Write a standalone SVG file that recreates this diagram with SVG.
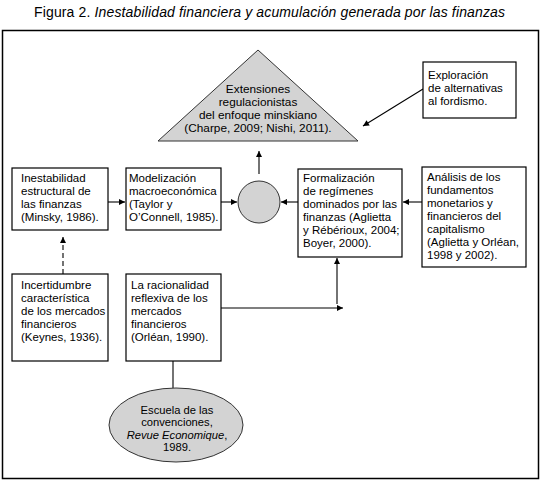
<svg xmlns="http://www.w3.org/2000/svg" width="544" height="481" viewBox="0 0 544 481">
<defs>
<marker id="ah" viewBox="0 0 10 10" refX="10" refY="5" markerWidth="8" markerHeight="6" markerUnits="userSpaceOnUse" orient="auto">
<path d="M0,0 L10,5 L0,10 z" fill="#000"/>
</marker>
</defs>
<style>
text{font-family:"Liberation Sans",Arial,sans-serif;font-size:11.5px;fill:#000}
.box{fill:#fff;stroke:#000;stroke-width:1.2}
.gray{fill:#d3d3d3;stroke:#333;stroke-width:1}
.c{text-anchor:middle}
.tri{font-size:11.8px}
.ell{font-size:11.2px}
.ln{fill:none;stroke:#000;stroke-width:1.1}
.ar{fill:none;stroke:#000;stroke-width:1.1;marker-end:url(#ah)}
.title{font-size:14px}
</style>
<rect width="544" height="481" fill="#fff"/>
<text class="title" x="34" y="17" textLength="471" lengthAdjust="spacing">Figura 2. <tspan font-style="italic">Inestabilidad financiera y acumulación generada por las finanzas</tspan></text>
<rect x="2.5" y="30.5" width="536" height="448" fill="none" stroke="#000" stroke-width="1.5"/>

<g id="connectors">
<line class="ar" x1="423" y1="89" x2="363" y2="126"/>
<line class="ar" x1="108" y1="202" x2="125" y2="202"/>
<line class="ar" x1="221" y1="202" x2="237" y2="202"/>
<line class="ar" x1="298" y1="202" x2="281" y2="202"/>
<line class="ar" x1="422" y1="202" x2="403" y2="202"/>
<line class="ar" x1="259" y1="174" x2="259" y2="151"/>
<line class="ar" x1="63" y1="274" x2="63" y2="237" stroke-dasharray="5,3"/>
<line class="ar" x1="221" y1="308" x2="343" y2="308"/>
<line class="ar" x1="337" y1="304" x2="337" y2="258"/>
<line class="ln" x1="173" y1="361" x2="173" y2="388"/>
</g>

<g id="triangle">
<polygon class="gray" points="258,50 358,141 158,141"/>
<text class="c tri" x="258" y="93">Extensiones</text>
<text class="c tri" x="258" y="106">regulacionistas</text>
<text class="c tri" x="258" y="119">del enfoque minskiano</text>
<text class="c tri" x="258" y="132">(Charpe, 2009; Nishi, 2011).</text>
</g>

<g id="exploracion">
<rect class="box" x="423" y="62" width="93" height="56"/>
<text x="428" y="79">Exploración</text>
<text x="428" y="92">de alternativas</text>
<text x="428" y="105">al fordismo.</text>
</g>

<g id="inestabilidad">
<rect class="box" x="12" y="168" width="96" height="62"/>
<text x="21" y="182">Inestabilidad</text>
<text x="21" y="195">estructural de</text>
<text x="21" y="208">las finanzas</text>
<text x="21" y="221">(Minsky, 1986).</text>
</g>

<g id="modelizacion">
<rect class="box" x="126" y="168" width="95" height="62"/>
<text x="129" y="182">Modelización</text>
<text x="129" y="195">macroeconómica</text>
<text x="129" y="208">(Taylor y</text>
<text x="129" y="221">O’Connell, 1985).</text>
</g>

<g id="circulo">
<circle class="gray" cx="259" cy="202" r="21"/>
</g>

<g id="formalizacion">
<rect class="box" x="298" y="169" width="104" height="88"/>
<text x="303" y="182">Formalización</text>
<text x="303" y="195">de regímenes</text>
<text x="303" y="208">dominados por las</text>
<text x="303" y="221">finanzas (Aglietta</text>
<text x="303" y="234">y Rébérioux, 2004;</text>
<text x="303" y="247">Boyer, 2000).</text>
</g>

<g id="analisis">
<rect class="box" x="422" y="167" width="104" height="100"/>
<text x="427" y="181">Análisis de los</text>
<text x="427" y="194">fundamentos</text>
<text x="427" y="207">monetarios y</text>
<text x="427" y="220">financieros del</text>
<text x="427" y="233">capitalismo</text>
<text x="427" y="246">(Aglietta y Orléan,</text>
<text x="427" y="259">1998 y 2002).</text>
</g>

<g id="incertidumbre">
<rect class="box" x="12" y="274" width="96" height="87"/>
<text x="21" y="289">Incertidumbre</text>
<text x="21" y="302">característica</text>
<text x="21" y="315">de los mercados</text>
<text x="21" y="328">financieros</text>
<text x="21" y="341">(Keynes, 1936).</text>
</g>

<g id="racionalidad">
<rect class="box" x="126" y="274" width="95" height="87"/>
<text x="131" y="289">La racionalidad</text>
<text x="131" y="302">reflexiva de los</text>
<text x="131" y="315">mercados</text>
<text x="131" y="328">financieros</text>
<text x="131" y="341">(Orléan, 1990).</text>
</g>

<g id="escuela">
<ellipse class="gray" cx="176" cy="425" rx="67" ry="37"/>
<text class="c ell" x="177" y="413.5">Escuela de las</text>
<text class="c ell" x="177" y="426">convenciones,</text>
<text class="c ell" x="177" y="438.5"><tspan font-style="italic">Revue Economique</tspan>,</text>
<text class="c ell" x="177" y="451">1989.</text>
</g>
</svg>
